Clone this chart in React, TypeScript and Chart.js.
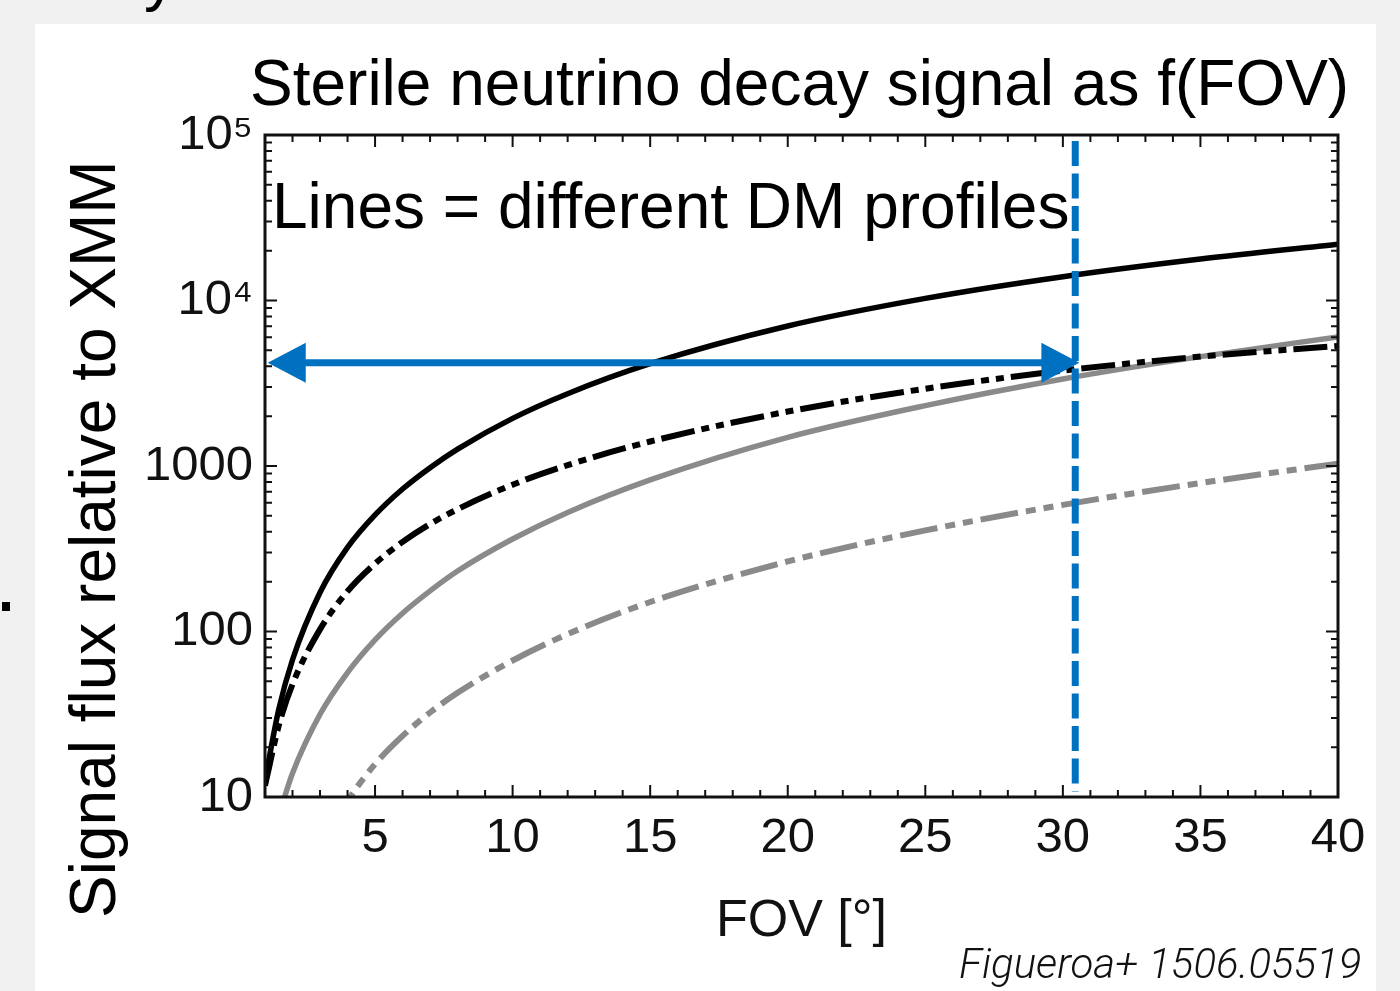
import React, { useEffect, useRef } from 'react';
import { Chart, registerables } from 'chart.js';

Chart.register(...registerables);

// ---------------- data ----------------
const FOV_BLACK = [1, 1.5, 2, 3, 4, 5, 6, 7, 8, 10, 12, 15, 20, 25, 30, 35, 40];
const PROFILE_SOLID_BLACK = [12.6, 33.8, 67.5, 172, 322, 506, 726, 977, 1265, 1941, 2735, 4150, 7015, 10300, 13930, 17800, 21900];
const PROFILE_DASHDOT_BLACK = [11.7, 27, 48, 103, 175, 257, 348, 446, 548, 771, 1012, 1406, 2133, 2931, 3767, 4581, 5309];
const FOV_GRAY_SOLID = [1.5, 2, 3, 4, 5, 6, 7, 8, 10, 12, 15, 20, 25, 30, 35, 40];
const PROFILE_SOLID_GRAY = [7.7, 13.9, 31.6, 56.5, 89, 129, 176, 232, 362, 524, 824, 1490, 2317, 3357, 4580, 6030];
const FOV_GRAY_DASHED = [3.5, 4, 5, 6, 7, 8, 10, 12, 15, 20, 25, 30, 35, 40];
const PROFILE_DASHED_GRAY = [6.7, 9.44, 15.8, 23.4, 32.4, 42.6, 66.8, 96.4, 150.7, 265, 408, 582, 789, 1033];

const X_TICKS = [5, 10, 15, 20, 25, 30, 35, 40];
const Y_TICKS = [10, 100, 1000, 10000, 100000];
const Y_TICK_LABELS = ['10', '100', '1000', '10⁴', '10⁵'];

const ARROW_FOV = [1.1, 30.6];
const ARROW_FLUX = 4200;
const MARK_FOV = 30.45;
const MARK_FLUX = [10.8, 92000];

const TITLE = 'Sterile neutrino decay signal as f(FOV)';
const NOTE = 'Lines = different DM profiles';
const Y_TITLE = 'Signal flux relative to XMM';
const X_TITLE = 'FOV [°]';
const CITATION = 'Figueroa+ 1506.05519';

const FONT = "'Liberation Sans', Arial, Helvetica, sans-serif";
const BLUE = '#0070C0';
const GRAY = '#8a8a8a';
const INK = '#111';

const toXY = (xs: number[], ys: number[]) => xs.map((x, i) => ({ x, y: ys[i] }));

const framePlugin = {
  id: 'frameAndMarks',
  afterDatasetsDraw(chart: any) {
    const { ctx, chartArea: a, scales } = chart;
    const x = scales.x;
    const y = scales.y;
    ctx.save();

    // vertical dashed marker
    const vx = x.getPixelForValue(MARK_FOV);
    ctx.strokeStyle = BLUE;
    ctx.lineWidth = 7;
    ctx.lineCap = 'butt';
    ctx.setLineDash([25, 7.5]);
    ctx.beginPath();
    ctx.moveTo(vx, y.getPixelForValue(MARK_FLUX[1]));
    ctx.lineTo(vx, y.getPixelForValue(MARK_FLUX[0]));
    ctx.stroke();
    ctx.setLineDash([]);

    // double arrow
    const ax0 = x.getPixelForValue(ARROW_FOV[0]);
    const ax1 = x.getPixelForValue(ARROW_FOV[1]);
    const ay = y.getPixelForValue(ARROW_FLUX);
    const hl = 38;
    const hw = 20;
    ctx.lineWidth = 7;
    ctx.beginPath();
    ctx.moveTo(ax0 + hl - 4, ay);
    ctx.lineTo(ax1 - hl + 4, ay);
    ctx.stroke();
    ctx.fillStyle = BLUE;
    ctx.beginPath();
    ctx.moveTo(ax1, ay);
    ctx.lineTo(ax1 - hl, ay - hw);
    ctx.lineTo(ax1 - hl, ay + hw);
    ctx.closePath();
    ctx.fill();
    ctx.beginPath();
    ctx.moveTo(ax0, ay);
    ctx.lineTo(ax0 + hl, ay - hw);
    ctx.lineTo(ax0 + hl, ay + hw);
    ctx.closePath();
    ctx.fill();

    // inward ticks
    ctx.strokeStyle = INK;
    ctx.lineWidth = 2;
    ctx.beginPath();
    for (let v = Math.ceil(x.min); v <= x.max; v++) {
      if (v === x.min || v === x.max) continue;
      const px = x.getPixelForValue(v);
      const len = v % 5 === 0 ? 12 : 7;
      ctx.moveTo(px, a.bottom);
      ctx.lineTo(px, a.bottom - len);
      ctx.moveTo(px, a.top);
      ctx.lineTo(px, a.top + len);
    }
    for (let d = 1; d < 5; d++) {
      for (let m = 1; m < 10; m++) {
        const v = m * Math.pow(10, d);
        if (v <= y.min || v >= y.max) continue;
        const py = y.getPixelForValue(v);
        const len = m === 1 ? 12 : 7;
        ctx.moveTo(a.left, py);
        ctx.lineTo(a.left + len, py);
        ctx.moveTo(a.right, py);
        ctx.lineTo(a.right - len, py);
      }
    }
    ctx.stroke();

    // frame
    ctx.lineWidth = 3;
    ctx.strokeRect(a.left, a.top, a.right - a.left, a.bottom - a.top);
    ctx.restore();
  },
};

export default function App() {
  const ref = useRef<HTMLCanvasElement | null>(null);

  useEffect(() => {
    if (!ref.current) return;
    const common = { pointRadius: 0, fill: false, cubicInterpolationMode: 'monotone' as const, borderJoinStyle: 'round' as const, borderCapStyle: 'butt' as const };
    const chart = new Chart(ref.current, {
      type: 'line',
      data: {
        datasets: [
          { ...common, label: 'profile 1', data: toXY(FOV_BLACK, PROFILE_SOLID_BLACK), borderColor: '#000', borderWidth: 5.5 },
          { ...common, label: 'profile 2', data: toXY(FOV_BLACK, PROFILE_DASHDOT_BLACK), borderColor: '#000', borderWidth: 6, borderDash: [34, 7, 8, 7, 8, 7] },
          { ...common, label: 'profile 3', data: toXY(FOV_GRAY_SOLID, PROFILE_SOLID_GRAY), borderColor: GRAY, borderWidth: 5.5 },
          { ...common, label: 'profile 4', data: toXY(FOV_GRAY_DASHED, PROFILE_DASHED_GRAY), borderColor: GRAY, borderWidth: 6, borderDash: [38, 8, 10, 8, 10, 8] },
        ],
      },
      options: {
        animation: false,
        responsive: false,
        events: [],
        layout: { padding: { top: 135, right: 62, left: 0, bottom: 0 } },
        plugins: { legend: { display: false }, tooltip: { enabled: false }, title: { display: false } },
        scales: {
          x: {
            type: 'linear',
            min: 1,
            max: 40,
            grid: { display: false, drawTicks: false },
            border: { display: false },
            afterBuildTicks: (s: any) => { s.ticks = X_TICKS.map((v) => ({ value: v })); },
            afterFit: (s: any) => { s.height = 194; },
            ticks: { padding: 12, color: INK, font: { size: 49, family: FONT }, maxRotation: 0, autoSkip: false },
            title: { display: true, text: X_TITLE, color: INK, font: { size: 52, family: FONT }, padding: { top: 0, bottom: 38 } },
          },
          y: {
            type: 'logarithmic',
            min: 10,
            max: 100000,
            grid: { display: false, drawTicks: false },
            border: { display: false },
            afterBuildTicks: (s: any) => { s.ticks = Y_TICKS.map((v) => ({ value: v })); },
            afterFit: (s: any) => { s.width = 265; },
            ticks: {
              padding: 12,
              color: INK,
              font: { size: 49, family: FONT },
              autoSkip: false,
              callback: (v: any) => {
                const i = Y_TICKS.indexOf(Number(v));
                return i >= 0 ? Y_TICK_LABELS[i] : '';
              },
            },
          },
        },
      },
      plugins: [framePlugin],
    });
    return () => chart.destroy();
  }, []);

  const abs = (o: any) => ({ position: 'absolute' as const, whiteSpace: 'nowrap' as const, fontFamily: FONT, color: '#000', ...o });

  return (
    <div style={{ position: 'absolute', left: 0, top: 0, width: 1400, height: 991, background: '#f0f0f0', overflow: 'hidden' }}>
      <div style={{ position: 'absolute', left: 35, top: 24, width: 1341, height: 967, background: '#fff' }} />
      <div style={abs({ left: 144, top: -55, fontSize: 64, lineHeight: '64px' })}>y</div>
      <div style={{ position: 'absolute', left: 2, top: 602, width: 8, height: 9, background: '#000' }} />
      <canvas ref={ref} width={1400} height={991} style={{ position: 'absolute', left: 0, top: 0, width: 1400, height: 991 }} />
      <div style={abs({ left: 250, top: 51, fontSize: 64, lineHeight: '64px' })}>{TITLE}</div>
      <div style={abs({ left: 272, top: 174, fontSize: 64, lineHeight: '64px' })}>{NOTE}</div>
      <div style={abs({ left: 61, top: 918, fontSize: 64, lineHeight: '64px', transformOrigin: '0 0', transform: 'rotate(-90deg)' })}>{Y_TITLE}</div>
      <div style={abs({ left: 959, top: 943, fontSize: 42, lineHeight: '42px', fontFamily: "Roboto, 'Liberation Sans', sans-serif", fontStyle: 'italic', fontWeight: 300, color: '#111' })}>{CITATION}</div>
    </div>
  );
}
